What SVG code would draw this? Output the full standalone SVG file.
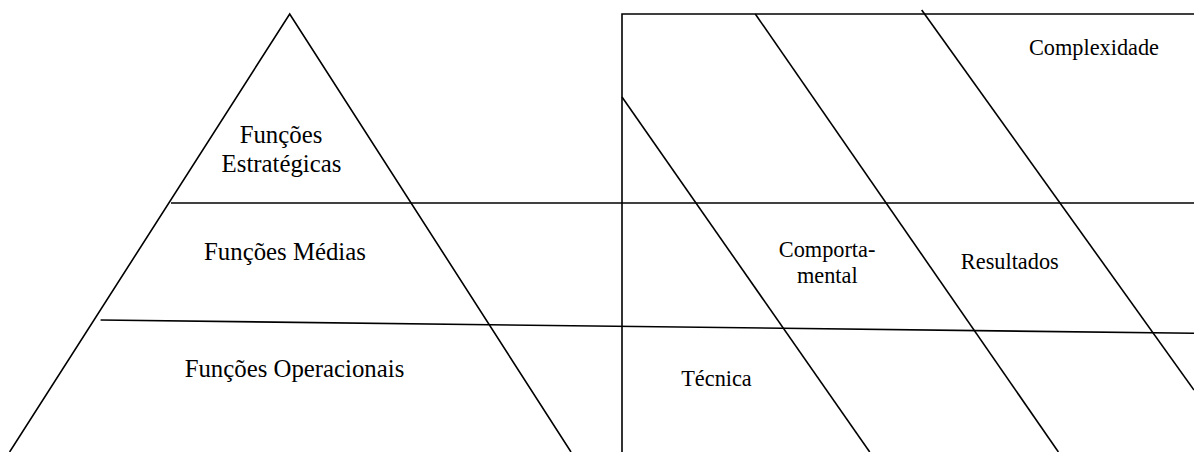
<svg xmlns="http://www.w3.org/2000/svg" width="1194" height="452" viewBox="0 0 1194 452">
<style>
.ln{stroke:#000;stroke-width:1.6;fill:none}
.t{font-family:"Liberation Serif","Times New Roman",serif;fill:#000}
.big{font-size:24.8px}
.sm{font-size:22.3px}
</style>
<rect width="1194" height="452" fill="#fff"/>
<g id="connectors">
<polyline class="ln" points="9.6,452 289.7,14 571,452"/>
<line class="ln" x1="171" y1="203" x2="1194" y2="203"/>
<line class="ln" x1="100.6" y1="320" x2="1194" y2="333.3"/>
<polyline class="ln" points="622,452 622,14 1194,14"/>
<line class="ln" x1="622" y1="97" x2="869.7" y2="452"/>
<line class="ln" x1="755.3" y1="14" x2="1058.4" y2="452"/>
<line class="ln" x1="921.7" y1="10" x2="1194" y2="390"/>
</g>
<g id="estrategicas">
<text class="t big" x="281" y="142.7" text-anchor="middle">Funções</text>
<text class="t big" x="281.5" y="171.7" text-anchor="middle">Estratégicas</text>
</g>
<g id="medias"><text class="t big" x="285" y="260" text-anchor="middle">Funções Médias</text></g>
<g id="operacionais"><text class="t big" x="294.5" y="376.7" text-anchor="middle">Funções Operacionais</text></g>
<g id="complexidade"><text class="t sm" x="1094" y="55" text-anchor="middle">Complexidade</text></g>
<g id="comportamental">
<text class="t sm" x="827.1" y="257.3" text-anchor="middle">Comporta-</text>
<text class="t sm" x="827.3" y="283.3" text-anchor="middle">mental</text>
</g>
<g id="resultados"><text class="t sm" x="1009.8" y="269.3" text-anchor="middle">Resultados</text></g>
<g id="tecnica"><text class="t sm" x="716.5" y="386" text-anchor="middle">Técnica</text></g>
</svg>
